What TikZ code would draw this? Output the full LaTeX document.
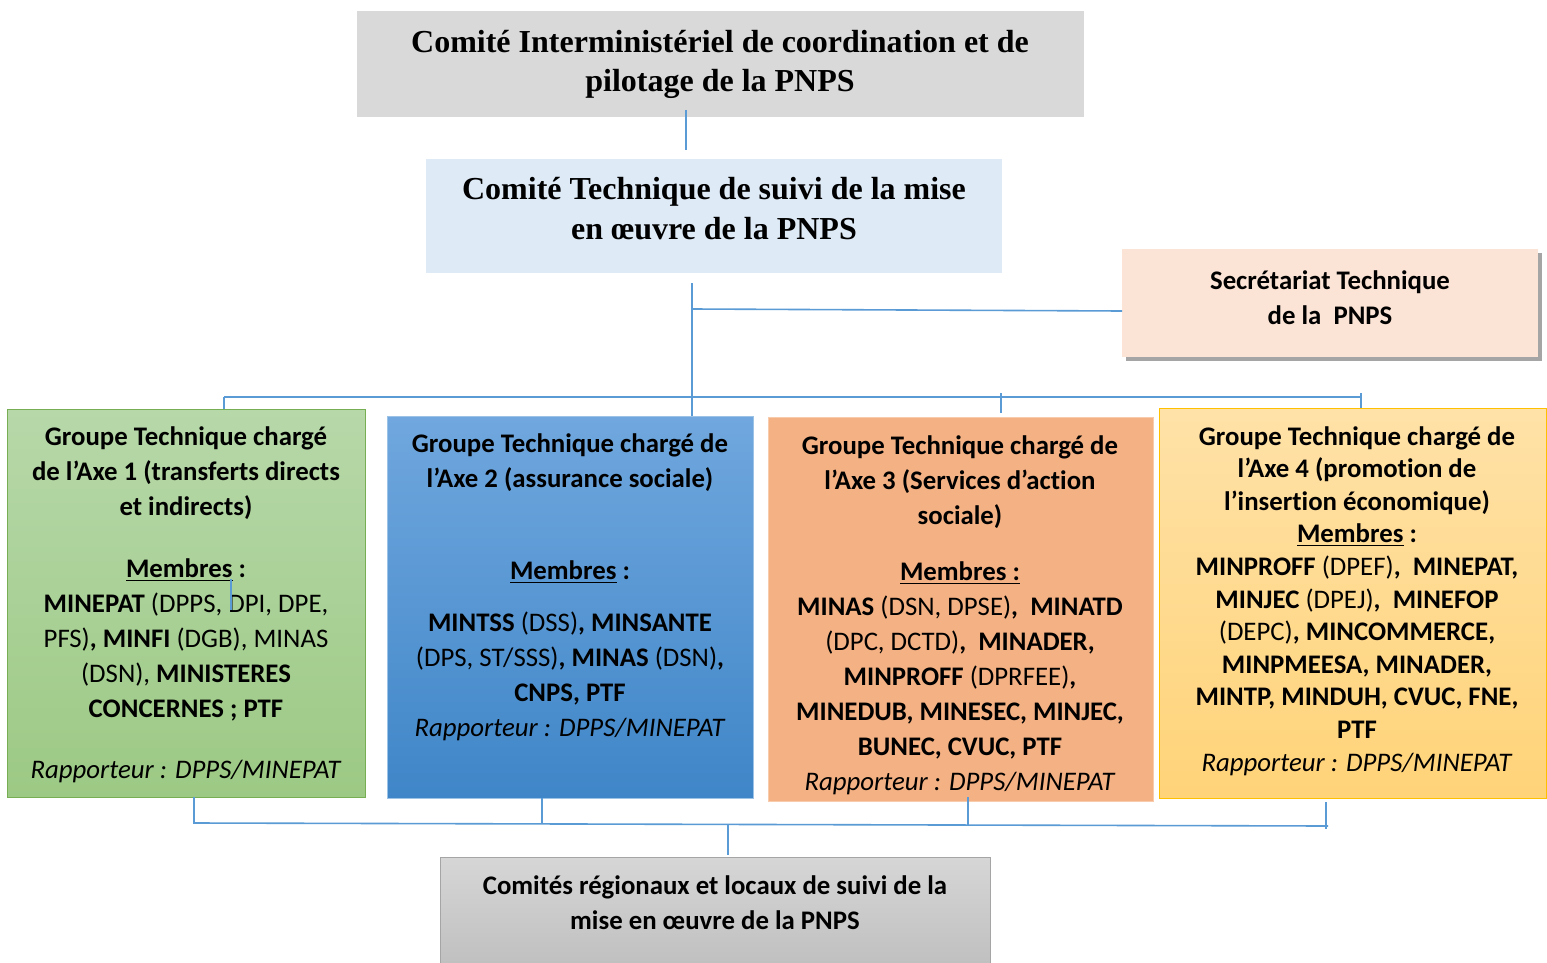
\documentclass[tikz,border=0pt]{standalone}
\usepackage{fontspec}
\setmainfont{Carlito}[Ligatures=NoCommon]
\newfontfamily\tnr{Liberation Serif}
\usetikzlibrary{calc}
\definecolor{cline}{HTML}{5B9BD5}
\definecolor{gtop}{HTML}{D9D9D9}
\definecolor{ctfill}{HTML}{DEEAF6}
\definecolor{secfill}{HTML}{FBE4D5}
\definecolor{secshadow}{HTML}{A5A5A5}
\definecolor{aoneT}{HTML}{B7D8A9}
\definecolor{aoneB}{HTML}{9CC984}
\definecolor{aoneD}{HTML}{78AE53}
\definecolor{atwoT}{HTML}{70A7DE}
\definecolor{atwoB}{HTML}{3F86C8}
\definecolor{atwoD}{HTML}{9CC2E5}
\definecolor{athreeF}{HTML}{F4B183}
\definecolor{athreeD}{HTML}{F8CBAD}
\definecolor{afourT}{HTML}{FFE2A8}
\definecolor{afourB}{HTML}{FFD378}
\definecolor{afourD}{HTML}{FFC000}
\definecolor{botT}{HTML}{D6D6D6}
\definecolor{botB}{HTML}{BDBDBD}
\definecolor{botD}{HTML}{A5A5A5}
\tikzset{
  boxshape/.style={rectangle, inner sep=0pt, anchor=north west},
  conn/.style={draw=cline, line width=0.8pt},
  serifbig/.style={font=\tnr\bfseries\fontsize{16}{20}\selectfont, align=center, inner sep=0pt, anchor=base},
  grouptxt/.style={font=\fontsize{13.4}{17.5}\selectfont, align=center, inner sep=0pt, anchor=base},
}
\begin{document}
\begin{tikzpicture}[x=0.5pt,y=-0.5pt]
\clip (0,0) rectangle (1547,963);
\fill[white] (0,0) rectangle (1547,963);

% boxes
\node[boxshape, fill=gtop, minimum width=363.5pt, minimum height=53pt] (cic) at (357,11) {};
\node[boxshape, fill=ctfill, minimum width=288pt, minimum height=57pt] (ct) at (426,159) {};
\node[boxshape, fill=secshadow, minimum width=208pt, minimum height=54pt] (secsh) at (1126,253) {};
\node[boxshape, fill=secfill, minimum width=208pt, minimum height=54pt] (sec) at (1122,249) {};
\node[boxshape, top color=aoneT, bottom color=aoneB, draw=aoneD, line width=0.6pt, minimum width=179pt, minimum height=194pt] (ax1) at (7,409) {};
\node[boxshape, top color=atwoT, bottom color=atwoB, draw=atwoD, line width=0.6pt, minimum width=183pt, minimum height=191pt] (ax2) at (387,416) {};
\node[boxshape, fill=athreeF, draw=athreeD, line width=0.6pt, minimum width=192.5pt, minimum height=192pt] (ax3) at (768,417) {};
\node[boxshape, top color=afourT, bottom color=afourB, draw=afourD, line width=0.6pt, minimum width=193.5pt, minimum height=195pt] (ax4) at (1159,408) {};
\node[boxshape, top color=botT, bottom color=botB, draw=botD, line width=0.6pt, minimum width=275pt, minimum height=60pt] (bot) at (440,857) {};

% texts (anchor = baseline of the last line)
\node[serifbig] (cictxt) at (720,92) {Comité Interministériel de coordination et de\\pilotage de la PNPS};
\node[serifbig] (cttxt) at (714,239) {Comité Technique de suivi de la mise\\en œuvre de la PNPS};
\node[grouptxt] (sectxt) at (1330,324) {\textbf{Secrétariat Technique}\\\textbf{de la\ \ PNPS}};
\node[grouptxt] (ax1txt) at (186,778) {%
\textbf{Groupe Technique chargé}\\
\textbf{de l’Axe 1 (transferts directs}\\
\textbf{et indirects)}\\[13.5pt]
\textbf{\underline{Membres} :}\\
\textbf{MINEPAT} (DPPS, DPI, DPE,\\
PFS)\textbf{, MINFI} (DGB), MINAS\\
(DSN), \textbf{MINISTERES}\\
\textbf{CONCERNES ; PTF}\\[13pt]
\textit{Rapporteur : DPPS/MINEPAT}};
\node[grouptxt] (ax2txt) at (570,736) {%
\textbf{Groupe Technique chargé de}\\
\textbf{l’Axe 2 (assurance sociale)}\\[28.5pt]
\textbf{\underline{Membres} :}\\[8.5pt]
\textbf{MINTSS} (DSS)\textbf{, MINSANTE}\\
(DPS, ST/SSS)\textbf{, MINAS} (DSN)\textbf{,}\\
\textbf{CNPS, PTF}\\
\textit{Rapporteur : DPPS/MINEPAT}};
\node[grouptxt] (ax3txt) at (960,790) {%
\textbf{Groupe Technique chargé de}\\
\textbf{l’Axe 3 (Services d’action}\\
\textbf{sociale)}\\[10.5pt]
\textbf{\underline{Membres :}}\\
\textbf{MINAS} (DSN, DPSE)\textbf{,\ \ MINATD}\\
(DPC, DCTD)\textbf{,\ \ MINADER,}\\
\textbf{MINPROFF} (DPRFEE)\textbf{,}\\
\textbf{MINEDUB, MINESEC, MINJEC,}\\
\textbf{BUNEC, CVUC, PTF}\\
\textit{Rapporteur : DPPS/MINEPAT}};
\node[grouptxt, font=\fontsize{13.4}{16.3}\selectfont] (ax4txt) at (1357,771) {%
\textbf{Groupe Technique chargé de}\\
\textbf{l’Axe 4 (promotion de}\\
\textbf{l’insertion économique)}\\
\textbf{\underline{Membres} :}\\
\textbf{MINPROFF} (DPEF)\textbf{,\ \ MINEPAT,}\\
\textbf{MINJEC} (DPEJ)\textbf{,\ \ MINEFOP}\\
(DEPC)\textbf{, MINCOMMERCE,}\\
\textbf{MINPMEESA, MINADER,}\\
\textbf{MINTP, MINDUH, CVUC, FNE,}\\
\textbf{PTF}\\
\textit{Rapporteur : DPPS/MINEPAT}};
\node[grouptxt] (bottxt) at (715,929) {%
\textbf{Comités régionaux et locaux de suivi de la}\\
\textbf{mise en œuvre de la PNPS}};

% connector points
\coordinate (p1) at (686,110);
\coordinate (p2) at (686,150);
\coordinate (q1) at (692,283);
\coordinate (qs) at (692,309);
\coordinate (se) at (1122,311);
\coordinate (b1) at (224,397);
\coordinate (b4) at (1361,397);
\coordinate (t3a) at (1001,393);
\coordinate (t3b) at (1001,413);
\coordinate (t4a) at (1361,393);
\coordinate (s1) at (231,579);
\coordinate (s2) at (231,610);
\coordinate (d1a) at (194,797);
\coordinate (d1b) at (194,823);
\coordinate (d2a) at (542,798);
\coordinate (d2b) at (542,823.5);
\coordinate (d3a) at (968,797);
\coordinate (d3b) at (968,824.5);
\coordinate (d4a) at (1326,802);
\coordinate (d4b) at (1326,829);
\coordinate (dend) at (1328,826);
\coordinate (m1) at (728,824.5);
\coordinate (m2) at (728,855);

\draw[conn] (p1) -- (p2);
\draw[conn] (q1) -- (q1 |- ax2.north);
\draw[conn] (qs) -- (se);
\draw[conn] (b1) -- (b4);
\draw[conn] (b1) -- (b1 |- ax1.north);
\draw[conn] (t3a) -- (t3b);
\draw[conn] (t4a) -- (t4a |- ax4.north);
\draw[conn] (s1) -- (s2);
\draw[conn] (d1a) -- (d1b) -- (dend);
\draw[conn] (d2a) -- (d2b);
\draw[conn] (d3a) -- (d3b);
\draw[conn] (d4a) -- (d4b);
\draw[conn] (m1) -- (m2);
\end{tikzpicture}
\end{document}
